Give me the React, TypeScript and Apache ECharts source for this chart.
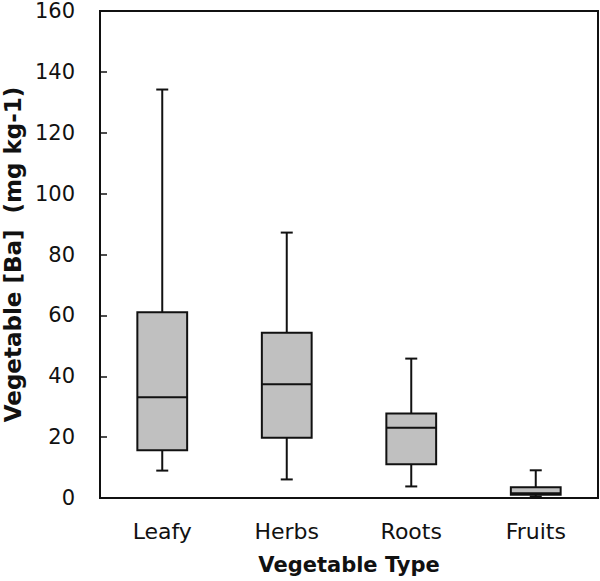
import React, { useEffect, useRef } from "react";
import * as echarts from "echarts";

const categories = ["Leafy", "Herbs", "Roots", "Fruits"];
// [min, Q1, median, Q3, max]
const boxData = [
  [9.0, 15.7, 33.1, 61.0, 134.2],
  [6.1, 19.8, 37.4, 54.3, 87.2],
  [3.8, 11.1, 23.1, 27.8, 45.8],
  [0.5, 1.1, 1.6, 3.5, 9.1],
];
const yTicks = { min: 0, max: 160, interval: 20 };

export default function App() {
  const ref = useRef<HTMLDivElement>(null);
  useEffect(() => {
    const chart = echarts.init(ref.current!, null, { renderer: "svg" });
    const font = "DejaVu Sans, Verdana, sans-serif";
    chart.setOption({
      animation: false,
      grid: {
        left: 100, right: 2, top: 11, bottom: 83,
        containLabel: false, outerBoundsMode: "none",
        show: true, borderColor: "#111", borderWidth: 2,
      },
      xAxis: {
        type: "category",
        data: categories,
        name: "Vegetable Type",
        nameLocation: "middle",
        nameGap: 56,
        nameTextStyle: { fontFamily: font, fontSize: 21, fontWeight: "bold", color: "#111" },
        axisLine: { lineStyle: { color: "#111", width: 2 } },
        axisTick: { show: false },
        axisLabel: { fontFamily: font, fontSize: 22, color: "#111", margin: 22 },
      },
      yAxis: {
        type: "value",
        min: yTicks.min,
        max: yTicks.max,
        interval: yTicks.interval,
        name: "Vegetable [Ba]  (mg kg-1)",
        nameLocation: "middle",
        nameGap: 75,
        nameTextStyle: { fontFamily: font, fontSize: 23, fontWeight: "bold", color: "#111" },
        axisLine: { show: true, lineStyle: { color: "#111", width: 2 } },
        axisTick: { show: true, inside: true, length: 7, lineStyle: { color: "#111", width: 1.5 } },
        axisLabel: { fontFamily: font, fontSize: 21, color: "#111", margin: 25 },
        splitLine: { show: false },
      },
      series: [
        {
          type: "custom",
          data: boxData.map((d, i) => [i, ...d]),
          renderItem: (params: any, api: any) => {
            const idx = api.value(0);
            const vals = [1, 2, 3, 4, 5].map((k) => api.value(k));
            const pts = vals.map((v) => api.coord([idx, v]));
            const x = pts[0][0];
            const bw = api.size([1, 0])[0] * 0.4;
            const cw = 12;
            const [pMin, pQ1, pMed, pQ3, pMax] = pts.map((p: number[]) => p[1]);
            const ls = { stroke: "#111", lineWidth: 2 };
            return {
              type: "group",
              children: [
                { type: "line", shape: { x1: x, y1: pMax, x2: x, y2: pQ3 }, style: ls },
                { type: "line", shape: { x1: x, y1: pQ1, x2: x, y2: pMin }, style: ls },
                { type: "line", shape: { x1: x - cw / 2, y1: pMax, x2: x + cw / 2, y2: pMax }, style: ls },
                { type: "line", shape: { x1: x - cw / 2, y1: pMin, x2: x + cw / 2, y2: pMin }, style: ls },
                {
                  type: "rect",
                  shape: { x: x - bw / 2, y: pQ3, width: bw, height: pQ1 - pQ3 },
                  style: { fill: "#c0c0c0", stroke: "#111", lineWidth: 2 },
                },
                { type: "line", shape: { x1: x - bw / 2, y1: pMed, x2: x + bw / 2, y2: pMed }, style: ls },
              ],
            };
          },
        },
      ],
    });
    return () => chart.dispose();
  }, []);
  return (
    <div
      ref={ref}
      style={{ position: "fixed", left: 0, top: 0, width: 600, height: 581, background: "#fff" }}
    />
  );
}
